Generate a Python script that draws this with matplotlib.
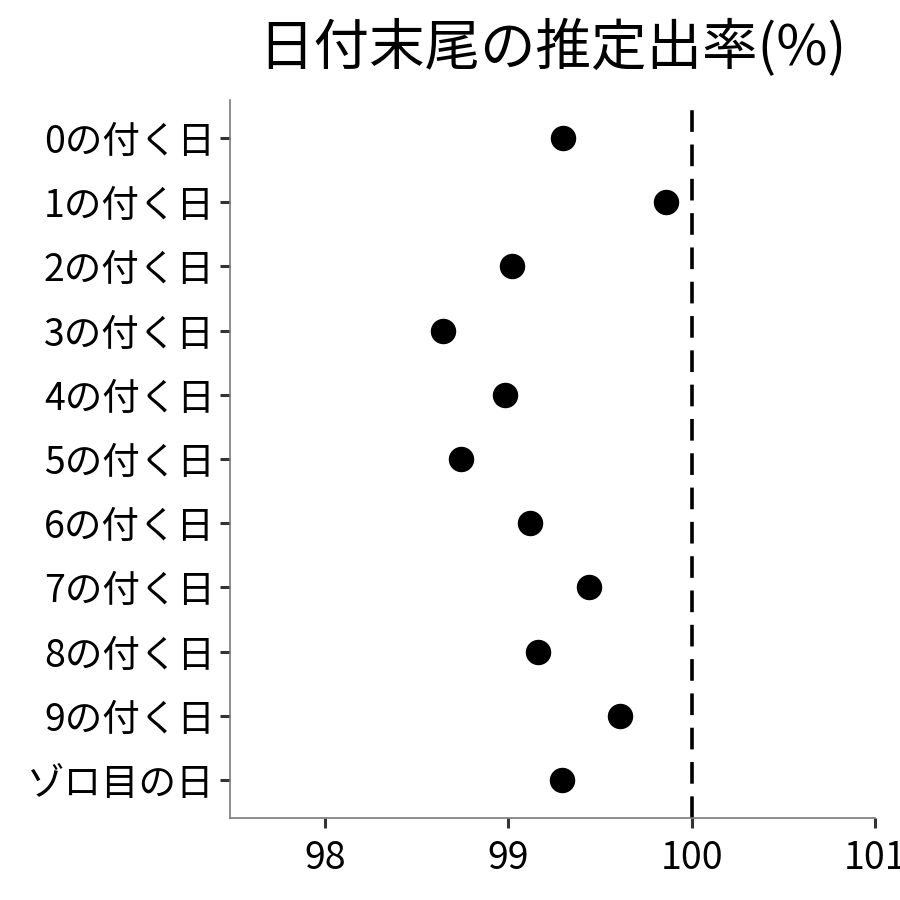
import matplotlib
matplotlib.use("Agg")
import matplotlib.pyplot as plt

plt.rcParams['font.family'] = ['Noto Sans CJK JP', 'DejaVu Sans']

categories = ["0の付く日", "1の付く日", "2の付く日", "3の付く日", "4の付く日",
              "5の付く日", "6の付く日", "7の付く日", "8の付く日", "9の付く日", "ゾロ目の日"]
values = [99.30, 99.86, 99.02, 98.64, 98.98, 98.74, 99.12, 99.44, 99.16, 99.61, 99.29]
xticks = [98, 99, 100, 101]
title = "日付末尾の推定出率(%)"

fig = plt.figure(figsize=(9, 9), dpi=100)
ax = fig.add_axes([0.2556, 0.0911, 0.7164, 0.7978])

ypos = list(range(len(categories)))
ax.scatter(values, ypos, s=300, color='black', zorder=3)
ax.axvline(100, color='black', linestyle=(0, (6, 3.5)), linewidth=2.6, zorder=2)

ax.set_xlim(97.48, 101.0)
ax.set_ylim(len(categories) - 1 + 0.59, -0.59)
ax.set_yticks(ypos)
ax.set_yticklabels(categories)
ax.set_xticks(xticks)
ax.set_xticklabels([str(t) for t in xticks])

for s in ['top', 'right']:
    ax.spines[s].set_visible(False)
for s in ['left', 'bottom']:
    ax.spines[s].set_color('#7a7a7a')
    ax.spines[s].set_linewidth(1.2)

ax.tick_params(axis='both', length=7, width=2.2, color='#333333', labelsize=27, labelcolor='black')
ax.tick_params(axis='y', pad=4)
ax.tick_params(axis='x', pad=8)

fig.suptitle(title, x=0.614, y=0.978, fontsize=40, va='top')

fig.savefig("out.png", dpi=100)
